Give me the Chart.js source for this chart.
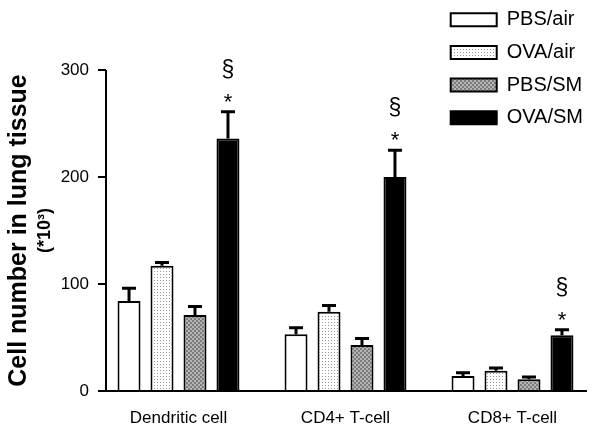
<!DOCTYPE html>
<html>
<head>
<meta charset="utf-8">
<script src="https://cdn.jsdelivr.net/npm/chart.js@4.4.1/dist/chart.umd.min.js"></script>
<style>
  body { margin: 0; background: #fff; }
  #wrap { width: 600px; height: 427px; }
</style>
</head>
<body>
<div id="wrap"><canvas id="chart" width="600" height="427"></canvas></div>
<script>
const categories = ["Dendritic cell", "CD4+ T-cell", "CD8+ T-cell"];
const seriesNames = ["PBS/air", "OVA/air", "PBS/SM", "OVA/SM"];
const pbsAir = [84, 53, 14];
const pbsAirErr = [12, 6, 3];
const ovaAir = [117, 74, 19];
const ovaAirErr = [3, 6, 2.5];
const pbsSm = [71, 43, 11];
const pbsSmErr = [8, 6, 2.2];
const ovaSm = [236, 200, 52];
const ovaSmErr = [25, 25, 5.3];
const yTicks = [0, 100, 200, 300];
const yTitle = "Cell number in lung tissue";
const yTitleSub = "(*10\u00B3)";

const FONT = "Arial, 'Liberation Sans', sans-serif";

// fill patterns for the two hatched groups
function makePattern(size, draw) {
  const c = document.createElement("canvas");
  c.width = size; c.height = size;
  const g = c.getContext("2d");
  draw(g);
  return document.getElementById("chart").getContext("2d").createPattern(c, "repeat");
}
const dotted = makePattern(3, g => {
  g.fillStyle = "#fff"; g.fillRect(0, 0, 3, 3);
  g.fillStyle = "#9a9a9a"; g.fillRect(1, 1, 1, 1);
});
const checker = makePattern(4, g => {
  g.fillStyle = "#b4b4b4"; g.fillRect(0, 0, 4, 4);
  g.fillStyle = "#7c7c7c"; g.fillRect(0, 0, 2, 2); g.fillRect(2, 2, 2, 2);
});

const values = [pbsAir, ovaAir, pbsSm, ovaSm];
const errors = [pbsAirErr, ovaAirErr, pbsSmErr, ovaSmErr];
const fills = ["#fff", dotted, checker, "#000"];

// axis lines, ticks, error bars and the */§ marks
const extras = {
  id: "extras",
  afterDatasetsDraw(chart) {
    const ctx = chart.ctx;
    const y = chart.scales.y;
    const axisX = 106;
    ctx.save();
    ctx.strokeStyle = "#000";
    ctx.fillStyle = "#000";

    // error bars (upper only)
    ctx.lineWidth = 3;
    values.forEach((vals, d) => {
      chart.getDatasetMeta(d).data.forEach((bar, i) => {
        const top = y.getPixelForValue(vals[i] + errors[d][i]);
        ctx.beginPath();
        ctx.moveTo(bar.x, bar.y);
        ctx.lineTo(bar.x, top);
        ctx.moveTo(bar.x - 7, top);
        ctx.lineTo(bar.x + 7, top);
        ctx.stroke();
      });
    });

    // significance marks over OVA/SM
    ctx.textAlign = "center";
    ctx.textBaseline = "alphabetic";
    chart.getDatasetMeta(3).data.forEach((bar, i) => {
      const top = y.getPixelForValue(ovaSm[i] + ovaSmErr[i]);
      ctx.font = "22px " + FONT;
      ctx.fillText("*", bar.x, top - 3);
      ctx.font = "23px " + FONT;
      ctx.fillText("\u00A7", bar.x, top - 35);
    });

    // axes
    const y0 = y.getPixelForValue(0);
    ctx.lineWidth = 2;
    ctx.beginPath();
    ctx.moveTo(axisX, y.getPixelForValue(yTicks[yTicks.length - 1]));
    ctx.lineTo(axisX, y0);
    ctx.lineTo(chart.chartArea.right - 9, y0);
    yTicks.forEach(v => {
      const py = y.getPixelForValue(v);
      ctx.moveTo(axisX - 8, py);
      ctx.lineTo(axisX, py);
    });
    ctx.stroke();

    // second line of the y title
    ctx.translate(45, (chart.chartArea.top + chart.chartArea.bottom) / 2);
    ctx.rotate(-Math.PI / 2);
    ctx.textBaseline = "middle";
    ctx.font = "bold 18px " + FONT;
    ctx.fillText(yTitleSub, 0, 0);
    ctx.restore();
  },
  afterLayout(chart) {
    // legend sits in the top-right corner, over the plot
    const lg = chart.legend;
    lg.left = 438;
    lg.top = -3;
    lg.right = lg.left + lg.width;
    lg.bottom = lg.top + 300;
  }
};

new Chart(document.getElementById("chart"), {
  type: "bar",
  data: {
    labels: categories,
    datasets: seriesNames.map((name, d) => ({
      label: name,
      data: values[d],
      backgroundColor: fills[d],
      borderColor: "#000",
      borderWidth: 2,
      categoryPercentage: 0.79,
      barPercentage: 0.697
    }))
  },
  options: {
    responsive: false,
    animation: false,
    layout: { padding: { top: 70, right: 4, bottom: 0, left: 0 } },
    plugins: {
      tooltip: { enabled: false },
      legend: {
        position: "chartArea",
        align: "start",
        labels: {
          color: "#000",
          font: { family: FONT, size: 20 },
          boxWidth: 46,
          boxHeight: 13,
          padding: 12.7
        }
      }
    },
    scales: {
      x: {
        grid: { display: false },
        border: { display: false },
        ticks: { color: "#000", font: { family: FONT, size: 17 }, padding: 9 },
        afterFit: s => { s.height = 36; }
      },
      y: {
        min: 0,
        max: 300,
        grid: { display: false },
        border: { display: false },
        ticks: { color: "#000", font: { family: FONT, size: 17 }, stepSize: 100, padding: -2 },
        title: {
          display: true,
          text: yTitle,
          color: "#000",
          font: { family: FONT, size: 25, weight: "bold" },
          padding: { top: 4, bottom: 0 }
        },
        afterFit: s => { s.width = 95; }
      }
    }
  },
  plugins: [extras]
});
</script>
</body>
</html>
